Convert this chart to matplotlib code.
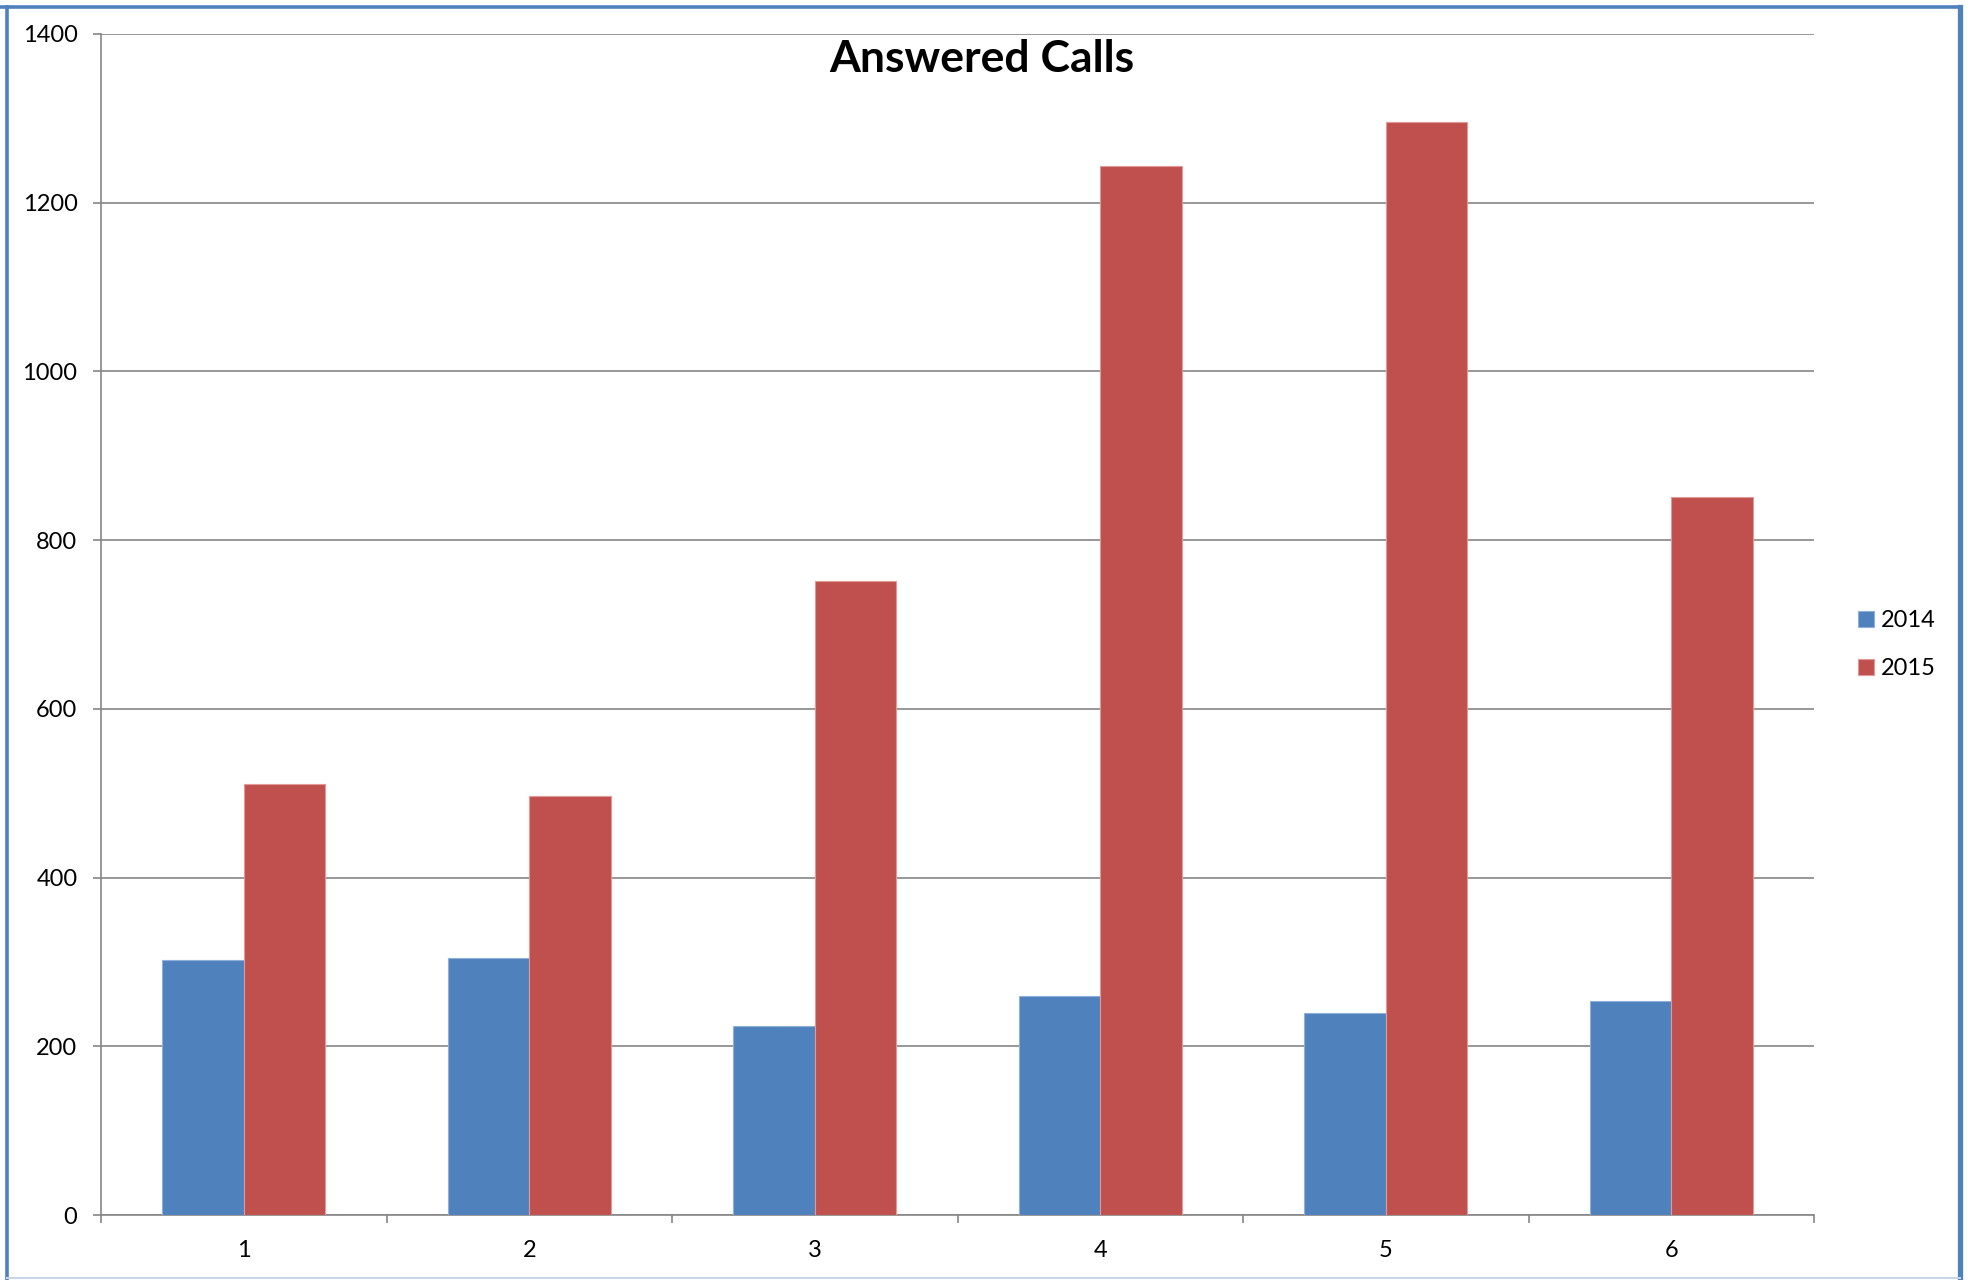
import matplotlib.pyplot as plt
import numpy as np
from matplotlib.lines import Line2D

# answered calls per period, two years side by side
periods = [1, 2, 3, 4, 5, 6]
calls_2014 = [302, 305, 224, 260, 240, 254]
calls_2015 = [511, 497, 751, 1243, 1296, 851]
series_names = ['2014', '2015']
y_ticks = [0, 200, 400, 600, 800, 1000, 1200, 1400]

plt.rcParams['font.family'] = ['Lato', 'DejaVu Sans']

fig = plt.figure(figsize=(19.74, 12.8), dpi=100)
ax = fig.add_axes([0.05117, 0.05078, 0.91895 - 0.05117, 0.97344 - 0.05078])

x = np.array(periods)
w = 0.285
grid_col = '#868686'

ax.bar(x - w / 2, calls_2014, width=w, color='#4F81BD', edgecolor='#8FB0DA',
       linewidth=0.8, label=series_names[0], zorder=3)
ax.bar(x + w / 2, calls_2015, width=w, color='#C0504D', edgecolor='#E29A98',
       linewidth=0.8, label=series_names[1], zorder=3)

ax.set_xlim(0.5, 6.5)
ax.set_ylim(0, 1400)
ax.set_yticks(y_ticks)
ax.set_yticklabels([str(v) for v in y_ticks])
ax.yaxis.grid(True, color=grid_col, linewidth=1.2, zorder=0)

# category ticks sit between the groups, labels at the centres
ax.set_xticks(np.arange(0.5, 7.0, 1.0))
ax.set_xticklabels([])
ax.set_xticks(x, minor=True)
ax.set_xticklabels([str(p) for p in periods], minor=True)
ax.tick_params(axis='x', which='major', length=6, width=1.2, color=grid_col)
ax.tick_params(axis='x', which='minor', length=0, pad=18, labelsize=17)
ax.tick_params(axis='y', length=6, width=1.2, color=grid_col, pad=11, labelsize=17)

for side in ['top', 'right']:
    ax.spines[side].set_visible(False)
for side in ['left', 'bottom']:
    ax.spines[side].set_color(grid_col)
    ax.spines[side].set_linewidth(1.2)

fig.text(0.4975, 0.9435, 'Answered Calls', ha='center', va='baseline',
         fontsize=32, fontweight='bold')

fig.legend(loc='center left', bbox_to_anchor=(0.9365, 0.4965), frameon=False,
           fontsize=17, handlelength=0.68, handleheight=0.68,
           handletextpad=0.3, labelspacing=1.15, borderaxespad=0)

# frame around the chart
fig.add_artist(Line2D([0.0034, 0.0034], [0.0, 0.9948], transform=fig.transFigure,
                      color='#4F81BD', linewidth=2.6))
fig.add_artist(Line2D([0.0, 0.9927], [0.9948, 0.9948], transform=fig.transFigure,
                      color='#4F81BD', linewidth=2.6))
fig.add_artist(Line2D([0.9927, 0.9927], [0.0, 0.9948], transform=fig.transFigure,
                      color='#4F81BD', linewidth=3.8))
fig.add_artist(Line2D([0.0034, 0.9927], [0.0016, 0.0016], transform=fig.transFigure,
                      color='#C9D6EA', linewidth=1.5))

fig.savefig('out.png', dpi=100)
